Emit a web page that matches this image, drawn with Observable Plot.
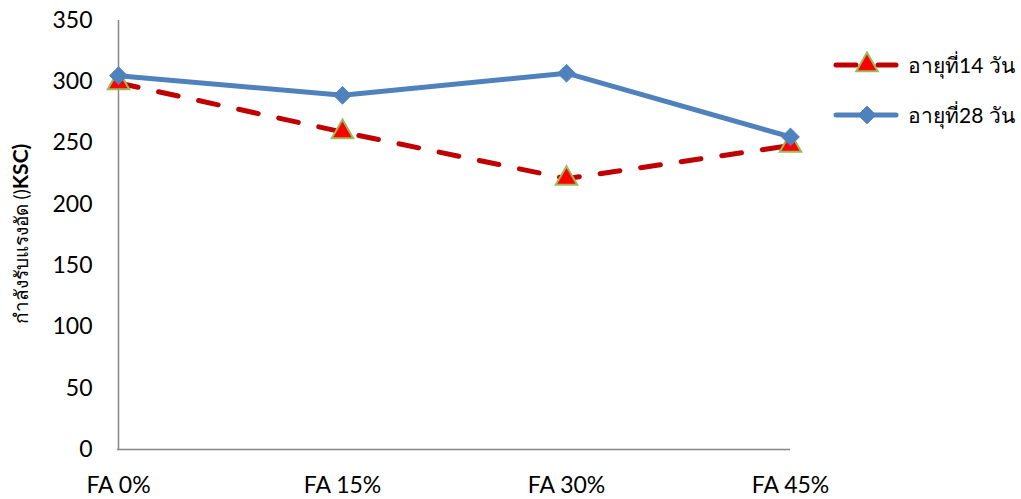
<!DOCTYPE html>
<html>
<head>
<meta charset="utf-8">
<script src="https://cdn.jsdelivr.net/npm/d3@7"></script>
<script src="https://cdn.jsdelivr.net/npm/@observablehq/plot@0.6"></script>
<style>
  html, body { margin: 0; padding: 0; background: #fff; }
  #wrap { position: relative; width: 1021px; height: 499px; overflow: hidden;
          font-family: Lato, "Noto Sans", "DejaVu Sans", sans-serif; color: #000; }
  #ylabel { position: absolute; left: 21px; top: 234px; white-space: nowrap;
            transform: translate(-50%, -50%) rotate(-90deg); font-size: 19px; }
  #ylabel b { font-weight: 700; font-size: 21px; }
  #legend { position: absolute; left: 833px; top: 51px; font-size: 21px; }
  .row { display: flex; align-items: center; height: 28px; margin-bottom: 22px; }
  .row svg { margin-right: 9px; }
</style>
</head>
<body>
<div id="wrap"></div>
<script>
// Compressive strength by fly-ash replacement level
const categories = ["FA 0%", "FA 15%", "FA 30%", "FA 45%"];
const day14 = [299, 259, 221, 248];
const day28 = [305, 289, 307, 255];
const yTicks = [0, 50, 100, 150, 200, 250, 300, 350];
const seriesNames = ["อายุที่14 วัน", "อายุที่28 วัน"];
const yTitle = "กำลังรับแรงอัด ()";
const yUnit = "KSC)";

const red = "#C00000", triFill = "#FF0000", triEdge = "#9BBB59", blue = "#4F81BD", axisGray = "#868686";

const rows14 = categories.map((c, i) => ({cat: c, v: day14[i]}));
const rows28 = categories.map((c, i) => ({cat: c, v: day28[i]}));

const chart = Plot.plot({
  width: 1021,
  height: 499,
  marginLeft: 117,
  marginRight: 231,
  marginTop: 20,
  marginBottom: 50,
  style: {fontFamily: 'Lato, "Noto Sans", sans-serif', fontSize: "23px", color: "#000", background: "transparent"},
  x: {type: "point", domain: categories, padding: 0},
  y: {domain: [0, 350]},
  marks: [
    Plot.axisY({ticks: yTicks, tickSize: 0, tickPadding: 25, label: null, fontSize: 23}),
    Plot.axisX({tickSize: 0, tickPadding: 27, label: null, fontSize: 23}),
    Plot.ruleX([categories[0]], {stroke: axisGray, strokeWidth: 1.5}),
    Plot.ruleY([0], {stroke: axisGray, strokeWidth: 1.5}),
    Plot.line(rows14, {x: "cat", y: "v", stroke: red, strokeWidth: 5, strokeDasharray: "20,21", strokeLinecap: "round"}),
    Plot.dot(rows14, {x: "cat", y: "v", symbol: "triangle", r: 8, fill: triFill, stroke: triEdge, strokeWidth: 2}),
    Plot.line(rows28, {x: "cat", y: "v", stroke: blue, strokeWidth: 5}),
    Plot.dot(rows28, {x: "cat", y: "v", symbol: "diamond2", r: 8, fill: blue, stroke: blue, strokeWidth: 1})
  ]
});

const wrap = document.getElementById("wrap");
wrap.appendChild(chart);

// Rotated axis title
const yl = document.createElement("div");
yl.id = "ylabel";
yl.textContent = yTitle;
const bold = document.createElement("b");
bold.textContent = yUnit;
yl.appendChild(bold);
wrap.appendChild(yl);

// Legend
const legend = d3.select(wrap).append("div").attr("id", "legend");
const styles = [
  {stroke: red, sym: d3.symbolTriangle, fill: triFill, edge: triEdge},
  {stroke: blue, sym: d3.symbolDiamond2, fill: blue, edge: blue}
];
seriesNames.forEach((name, i) => {
  const s = styles[i];
  const row = legend.append("div").attr("class", "row");
  const svg = row.append("svg").attr("width", 66).attr("height", 28);
  svg.append("line").attr("x1", 3).attr("x2", 63).attr("y1", 14).attr("y2", 14)
    .attr("stroke", s.stroke).attr("stroke-width", 5).attr("stroke-linecap", "round")
    .attr("stroke-dasharray", i === 0 ? "20,22" : null);
  svg.append("path").attr("transform", "translate(34,14)")
    .attr("d", d3.symbol(s.sym, 64 * Math.PI)())
    .attr("fill", s.fill).attr("stroke", s.edge).attr("stroke-width", i === 0 ? 2 : 1);
  row.append("span").text(name);
});
</script>
</body>
</html>
